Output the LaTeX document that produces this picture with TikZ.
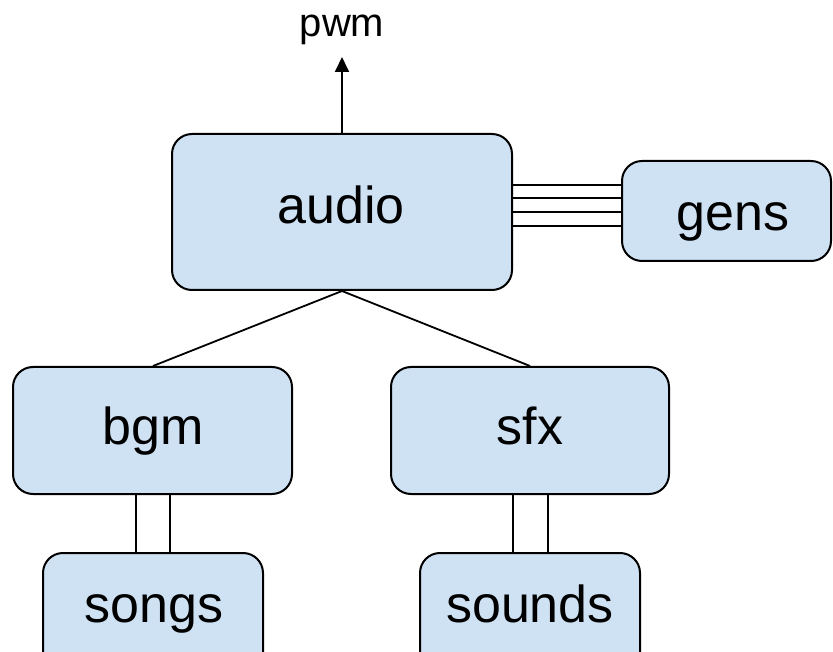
\documentclass[tikz,border=0pt]{standalone}
\usepackage{fontspec}
\setmainfont{Liberation Sans}
\usetikzlibrary{arrows.meta}
\definecolor{boxfill}{HTML}{CFE2F3}
\begin{document}
\begin{tikzpicture}[x=1pt,y=-1pt,
  box/.style={draw=black, fill=boxfill, line width=2pt, rounded corners=20pt, inner sep=0pt},
  lbl/.style={anchor=base, inner sep=0pt, font=\fontsize{52}{60}\selectfont},
  conn/.style={draw=black, line width=1.8pt}]
\clip (0,0) rectangle (833,652);
% boxes
\node[box, minimum width=340pt, minimum height=156pt] (audio) at (342,212) {};
\node[box, minimum width=209pt, minimum height=100pt] (gens) at (726.5,211) {};
\node[box, minimum width=279pt, minimum height=127pt] (bgm) at (152.5,430.5) {};
\node[box, minimum width=278pt, minimum height=127pt] (sfx) at (530,430.5) {};
\node[box, minimum width=220pt, minimum height=127pt] (songs) at (153,616.5) {};
\node[box, minimum width=220pt, minimum height=127pt] (sounds) at (530,616.5) {};
% labels
\node[lbl] (audiot) at (341,224) {audio};
\node[lbl] (genst) at (733,231) {gens};
\node[lbl] (bgmt) at (153.5,444) {bgm};
\node[lbl] (sfxt) at (530,444) {sfx};
\node[lbl] (songst) at (154,622) {songs};
\node[lbl] (soundst) at (530,622) {sounds};
\node[anchor=base, inner sep=0pt, font=\fontsize{40}{48}\selectfont] (pwm) at (342,37) {pwm};
% connectors
\coordinate (pwmend) at (342,57);
\draw[conn, -{Triangle[width=14pt,length=15pt]}] (audio.north) -- (pwmend);
\foreach \s in {27,14,0,-14}{
  \draw[conn, line width=1.6pt] ([yshift=\s pt]audio.east) -- ([yshift=\s pt]audio.east -| gens.west);
}
\draw[conn] (audio.south) -- ([xshift=0.5pt]bgm.north);
\draw[conn] (audio.south) -- (sfx.north);
\draw[conn] ([xshift=-16.5pt]bgm.south) -- ([xshift=-16.5pt]bgm.south |- songs.north);
\draw[conn] ([xshift=17.5pt]bgm.south) -- ([xshift=17.5pt]bgm.south |- songs.north);
\draw[conn] ([xshift=-17pt]sfx.south) -- ([xshift=-17pt]sfx.south |- sounds.north);
\draw[conn] ([xshift=18pt]sfx.south) -- ([xshift=18pt]sfx.south |- sounds.north);
\end{tikzpicture}
\end{document}
